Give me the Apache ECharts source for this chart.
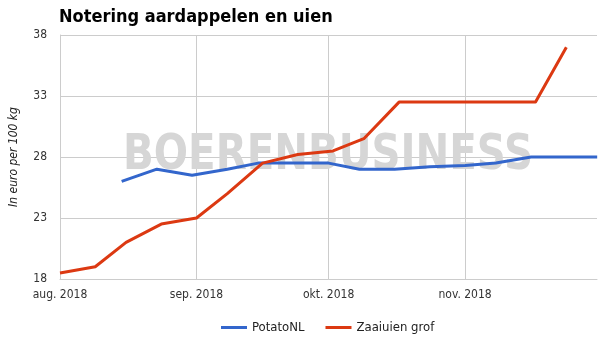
<!DOCTYPE html>
<html>
<head>
<meta charset="utf-8">
<script src="https://cdn.jsdelivr.net/npm/echarts@6/dist/echarts.min.js"></script>
<style>
  html, body { margin: 0; padding: 0; background: #fff; }
  #chart { width: 612px; height: 342px; }
</style>
</head>
<body>
<div id="chart"></div>
<script>
// Weekly price quotes, euro per 100 kg
const potatoDates = ['2018-08-15', '2018-08-23', '2018-08-31', '2018-09-08', '2018-09-15',
  '2018-09-23', '2018-10-01', '2018-10-08', '2018-10-16', '2018-10-24', '2018-11-01',
  '2018-11-08', '2018-11-16', '2018-11-24', '2018-12-01'];
const potatoValues = [26.0, 27.0, 26.5, 27.0, 27.5, 27.5, 27.5, 27.0, 27.0, 27.2, 27.3,
  27.5, 28.0, 28.0, 28.0];

const onionDates = ['2018-08-01', '2018-08-09', '2018-08-16', '2018-08-24', '2018-09-01',
  '2018-09-08', '2018-09-16', '2018-09-24', '2018-10-02', '2018-10-09', '2018-10-17',
  '2018-10-24', '2018-11-01', '2018-11-09', '2018-11-17', '2018-11-24'];
const onionValues = [18.5, 19.0, 21.0, 22.5, 23.0, 25.0, 27.5, 28.2, 28.5, 29.5, 32.5,
  32.5, 32.5, 32.5, 32.5, 37.0];

const seriesNames = ['PotatoNL', 'Zaaiuien grof'];
const monthTickLabels = { 7: 'aug. 2018', 8: 'sep. 2018', 9: 'okt. 2018', 10: 'nov. 2018' };
const yTicks = { min: 18, max: 38, step: 5 };

const axisFont = 'DejaVu Sans Condensed, DejaVu Sans, sans-serif';
const DAY = 86400000;

const pair = (dates, values) => dates.map((d, i) => [d, values[i]]);

const chart = echarts.init(document.getElementById('chart'), null, { renderer: 'canvas' });

chart.setOption({
  animation: false,
  backgroundColor: '#ffffff',
  title: {
    text: 'Notering aardappelen en uien',
    left: 54,
    top: 3,
    textStyle: {
      fontFamily: axisFont,
      fontWeight: 'bold',
      fontSize: 18,
      color: '#000000'
    }
  },
  graphic: [{
    type: 'text',
    z: 1,
    x: 328,
    y: 156,
    scaleX: 0.915,
    style: {
      text: 'BOERENBUSINESS',
      fontFamily: 'DejaVu Sans Condensed, DejaVu Sans, sans-serif',
      fontWeight: 'bold',
      fontSize: 49,
      fill: '#d6d6d6',
      align: 'center',
      verticalAlign: 'middle'
    }
  }],
  legend: {
    data: seriesNames,
    left: 216,
    top: 316,
    icon: 'rect',
    itemWidth: 26,
    itemHeight: 3,
    itemGap: 21,
    textStyle: { fontFamily: axisFont, fontSize: 13, color: '#222222', padding: [0, 0, 0, 0] }
  },
  grid: { left: 59, right: 15, top: 35, bottom: 63, containLabel: false },
  xAxis: {
    type: 'time',
    min: +new Date('2018-08-01T00:00:00'),
    max: +new Date('2018-12-01T00:00:00') - 3600000,
    minInterval: 28 * DAY,
    axisLine: { show: true, lineStyle: { color: '#cccccc', width: 1 } },
    axisTick: { show: false },
    splitLine: { show: true, showMaxLine: false, lineStyle: { color: '#cccccc', width: 1 } },
    axisLabel: {
      fontFamily: axisFont,
      fontSize: 12,
      color: '#333333',
      margin: 10,
      hideOverlap: false,
      formatter: function (value) {
        const d = new Date(value);
        if (d.getDate() !== 1) return '';
        return monthTickLabels[d.getMonth()] || '';
      }
    }
  },
  yAxis: {
    type: 'value',
    min: yTicks.min,
    max: yTicks.max,
    interval: yTicks.step,
    name: 'In euro per 100 kg',
    nameLocation: 'middle',
    nameGap: 40,
    nameRotate: 90,
    nameTextStyle: { fontFamily: axisFont, fontSize: 12, fontStyle: 'italic', color: '#222222' },
    axisLine: { show: true, lineStyle: { color: '#cccccc', width: 1 } },
    axisTick: { show: false },
    splitLine: { show: true, lineStyle: { color: '#cccccc', width: 1 } },
    axisLabel: { fontFamily: axisFont, fontSize: 12, color: '#333333', margin: 13 }
  },
  series: [
    {
      name: seriesNames[0],
      type: 'line',
      z: 3,
      data: pair(potatoDates, potatoValues),
      showSymbol: false,
      symbol: 'none',
      lineStyle: { color: '#3366cc', width: 3, join: 'round' },
      itemStyle: { color: '#3366cc' }
    },
    {
      name: seriesNames[1],
      type: 'line',
      z: 4,
      data: pair(onionDates, onionValues),
      showSymbol: false,
      symbol: 'none',
      lineStyle: { color: '#dc3912', width: 3, join: 'round' },
      itemStyle: { color: '#dc3912' }
    }
  ]
});
</script>
</body>
</html>
